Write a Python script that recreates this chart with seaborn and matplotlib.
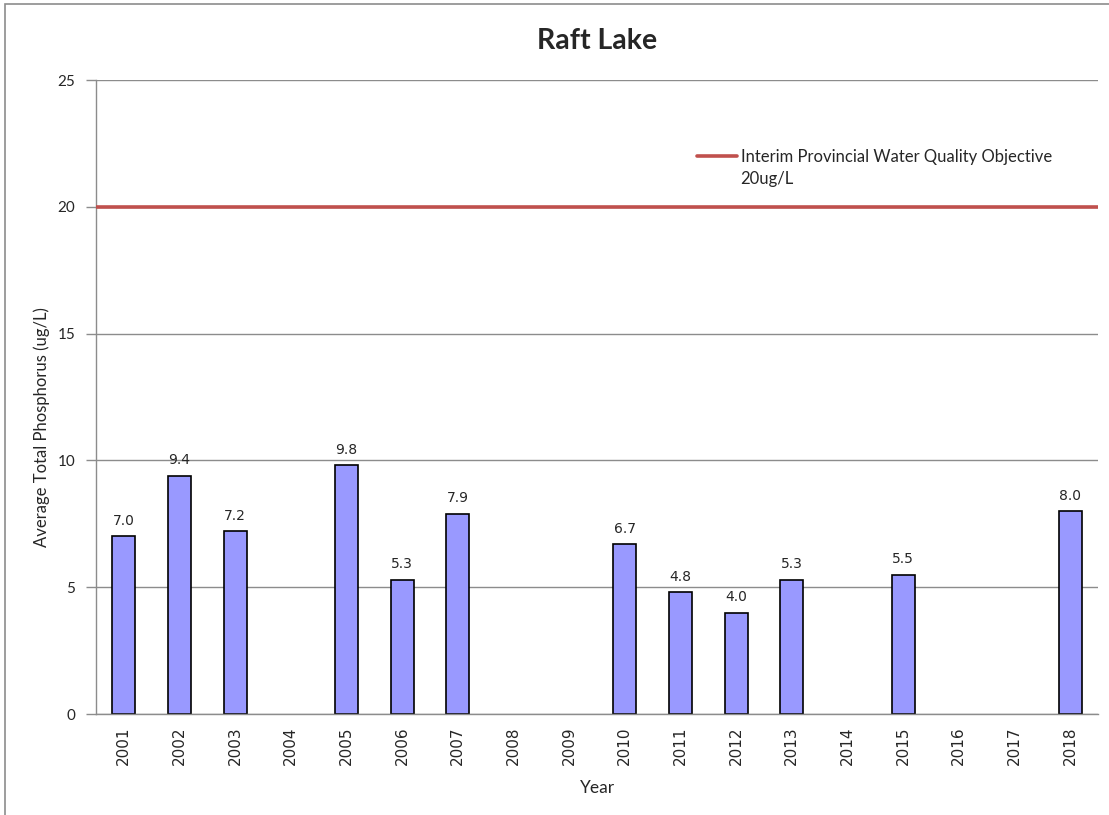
import pandas as pd
import numpy as np
import matplotlib
matplotlib.use("Agg")
import matplotlib.pyplot as plt
import seaborn as sns
from matplotlib.patches import Rectangle

# --- Data ---
years = [str(y) for y in range(2001, 2019)]
phosphorus = [7.0, 9.4, 7.2, np.nan, 9.8, 5.3, 7.9, np.nan, np.nan,
              6.7, 4.8, 4.0, 5.3, np.nan, 5.5, np.nan, np.nan, 8.0]
objective_value = 20
objective_label = "Interim Provincial Water Quality Objective"
objective_unit = "20ug/L"

df = pd.DataFrame({"Year": years, "TP": phosphorus})

sns.set_theme(style="white")
plt.rcParams['font.family'] = ['DejaVu Sans']

fig = plt.figure(figsize=(11.09, 8.15), dpi=100)
ax = fig.add_axes([96 / 1109, 1 - 714 / 815, (1098 - 96) / 1109, (714 - 80) / 815])

sns.barplot(data=df, x="Year", y="TP", order=years, color="#9999FF",
            saturation=1, edgecolor="black", linewidth=1.2, width=0.41,
            errorbar=None, ax=ax)

ax.bar_label(ax.containers[0], fmt="%.1f", padding=6, fontsize=10,
             fontfamily="DejaVu Sans")

ax.axhline(objective_value, color="#C0504D", linewidth=2.6,
           label=objective_label, zorder=3)

ax.set_ylim(0, 25)
ax.set_xlim(-0.5, len(years) - 0.5)
ax.set_yticks([0, 5, 10, 15, 20, 25])
ax.yaxis.grid(True, color="#8c8c8c", linewidth=1)
ax.set_axisbelow(True)

for side in ["top", "right"]:
    ax.spines[side].set_visible(False)
for side in ["left", "bottom"]:
    ax.spines[side].set_color("#8c8c8c")
    ax.spines[side].set_linewidth(1)

# Excel-style tick marks between categories on x
ax.set_xticks(np.arange(len(years)))
ax.set_xticklabels(years, rotation=90, fontsize=11, fontfamily="DejaVu Sans")
ax.set_xticks(np.arange(-0.5, len(years), 1), minor=True)
ax.tick_params(axis="x", which="major", length=0, pad=9)
ax.tick_params(axis="x", which="minor", length=7, color="#8c8c8c", width=1,
               direction="out")
ax.tick_params(axis="y", length=7, color="#8c8c8c", width=1, direction="out",
               labelsize=11, pad=8, left=True)
for lbl in ax.get_yticklabels():
    lbl.set_fontfamily("Lato")

ax.set_title("Raft Lake", fontsize=20.5, fontweight="bold", family="Lato", pad=22)
ax.set_xlabel("Year", fontsize=12.5, family="Lato", labelpad=11)
ax.set_ylabel("Average Total Phosphorus (ug/L)", fontsize=12, family="Lato")
ax.yaxis.set_label_coords(-0.046, 0.453)

ax.legend(loc="upper left", bbox_to_anchor=(697 / 1109, 1 - 149 / 815),
          bbox_transform=fig.transFigure, frameon=False, handlelength=2.4,
          handletextpad=0.25, prop={"family": "Lato", "size": 12},
          borderaxespad=0, borderpad=0)
fig.text(740 / 1109, 1 - 179 / 815, objective_unit, family="Lato",
         fontsize=12, va="center", ha="left")

# outer chart border
fig.add_artist(Rectangle((5 / 1109, -0.1), 1.2, 1 - 4 / 815 + 0.1,
                         transform=fig.transFigure, fill=False,
                         edgecolor="#8c8c8c", linewidth=1.2, clip_on=False))

fig.savefig("out.png", dpi=100)
